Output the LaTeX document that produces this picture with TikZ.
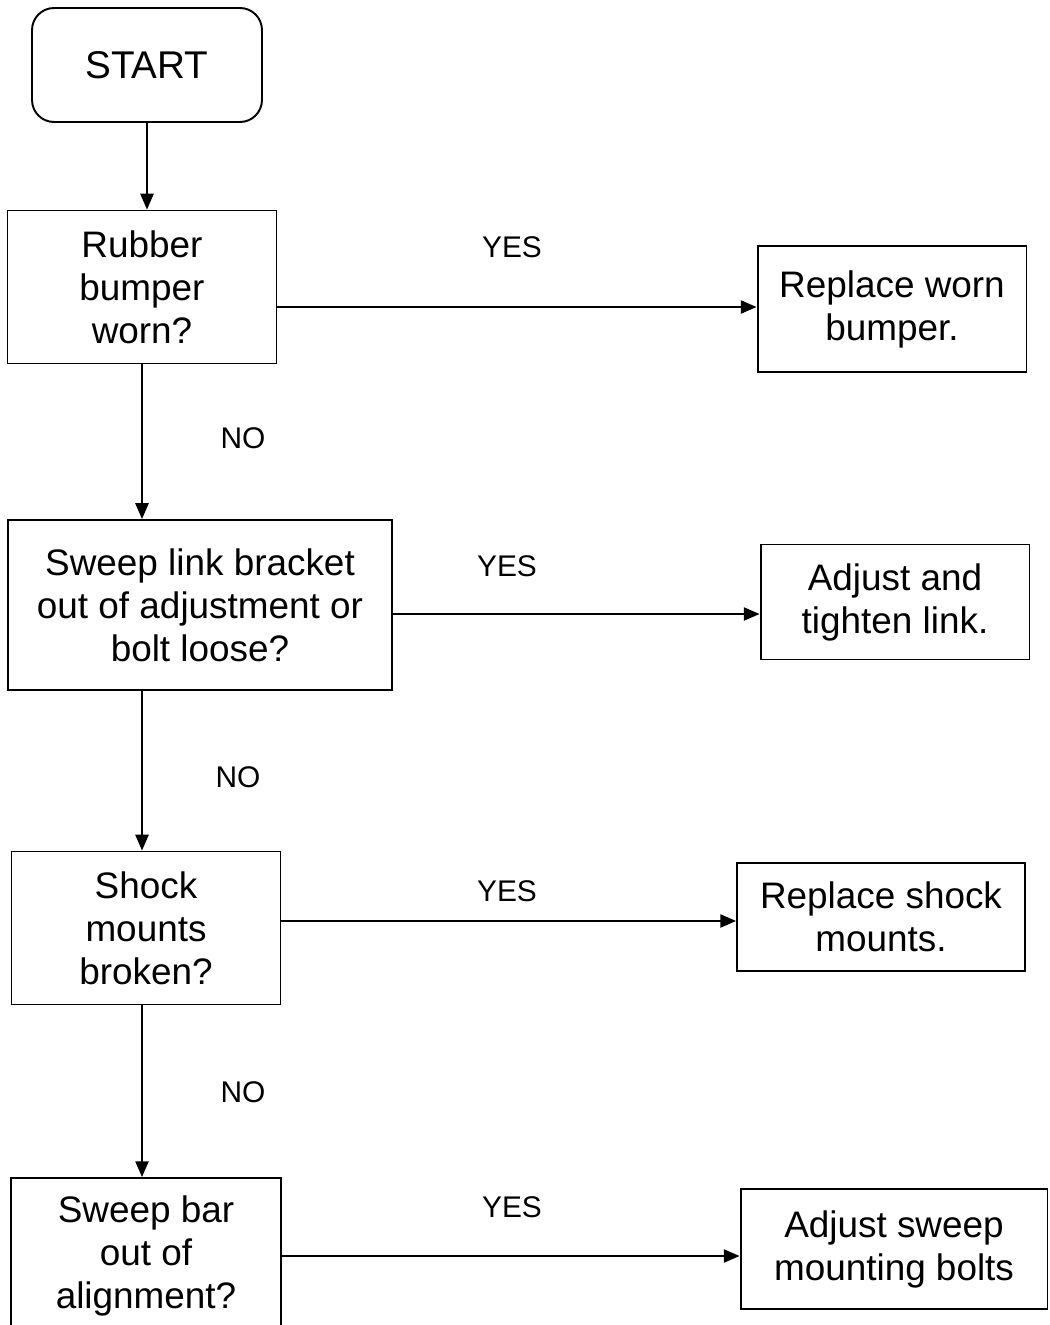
\documentclass[tikz,border=0pt]{standalone}
\usepackage{fontspec}
\setmainfont{Liberation Sans}
\usetikzlibrary{arrows.meta,positioning,calc}

\begin{document}
\begin{tikzpicture}[x=0.02cm, y=-0.02cm, >={Triangle[length=9pt,width=7.5pt]}, line width=1.1pt]
        \tikzset{
            startbox/.style={draw, rectangle, rounded corners=0.44cm, minimum width=4.6cm, minimum height=2.28cm, align=center, font=\fontsize{22}{25}\selectfont},
            decision/.style={draw, rectangle, minimum width=5.38cm, minimum height=3.06cm, align=center, font=\fontsize{21}{24.5}\selectfont},
            action/.style={draw, rectangle, minimum width=5.38cm, minimum height=2.4cm, align=center, font=\fontsize{21}{24.5}\selectfont},
            answer/.style={font=\fontsize{17}{20}\selectfont},
            line/.style={draw, ->}
        }
        \clip (0,0) rectangle (1050,1325);

        % Start
        \node [startbox] (start) at (147, 65) {START};

        % Questions
        \node [decision] (bumper) at (142, 287) {Rubber\\bumper\\worn?};
        \node [decision, minimum width=7.68cm, minimum height=3.4cm] (link) at (200, 605) {Sweep link bracket\\out of adjustment or\\bolt loose?};
        \node [decision] (shock) at (146, 928) {Shock\\mounts\\broken?};
        \node [decision, minimum width=5.4cm, minimum height=3.12cm] (bar) at (146, 1256) {Sweep bar\\out of\\alignment?};

        % Remedies
        \node [action, minimum height=2.52cm] (replbump) at (892, 309) {Replace worn\\bumper.};
        \node [action, minimum height=2.3cm] (adjlink) at (895, 602) {Adjust and\\tighten link.};
        \node [action, minimum width=5.76cm, minimum height=2.16cm] (replshock) at (881, 917) {Replace shock\\mounts.};
        \node [action, minimum width=6.14cm] (adjbolts) at (894, 1249) {Adjust sweep\\mounting bolts};

        % NO path
        \draw [line] (start.south) -- (start.south |- bumper.north);
        \draw [line] (bumper.south) -- (bumper.south |- link.north);
        \draw [line] (bumper.south |- link.south) -- (bumper.south |- shock.north);
        \draw [line] (bumper.south |- shock.south) -- (bumper.south |- bar.north);

        % YES path
        \draw [line] ($(bumper.east)+(0,20)$) -- ($(replbump.west)+(0,-2)$);
        \draw [line] ($(link.east)+(0,9)$) -- ($(adjlink.west)+(0,12)$);
        \draw [line] ($(shock.east)+(0,-7)$) -- ($(replshock.west)+(0,4)$);
        \draw [line] (bar.east) -- ($(adjbolts.west)+(0,7)$);

        % Labels
        \node [answer] (yes1) at (512, 247) {YES};
        \node [answer] (no1) at (243, 438) {NO};
        \node [answer] (yes2) at (507, 566) {YES};
        \node [answer] (no2) at (238, 777) {NO};
        \node [answer] (yes3) at (507, 891) {YES};
        \node [answer] (no3) at (243, 1092) {NO};
        \node [answer] (yes4) at (512, 1207) {YES};
\end{tikzpicture}
\end{document}
